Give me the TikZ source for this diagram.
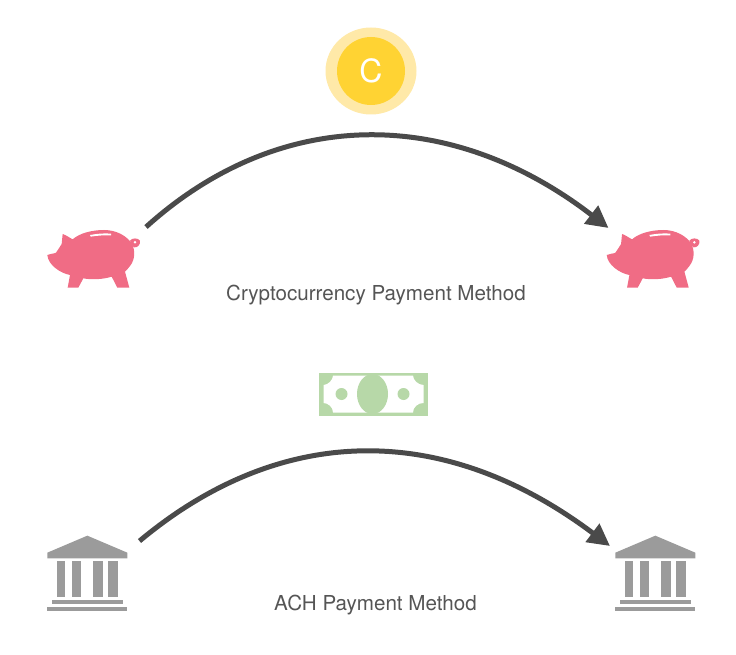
\documentclass[tikz,border=0pt]{standalone}
\usepackage{fontspec}
\setmainfont{TeX Gyre Heros}
\usetikzlibrary{positioning,arrows.meta,shapes.geometric}

\definecolor{pigpink}{HTML}{F06C85}
\definecolor{bankgray}{HTML}{9B9B9B}
\definecolor{billgreen}{HTML}{B7D8A8}
\definecolor{coinpale}{HTML}{FFE9A8}
\definecolor{coindeep}{HTML}{FFD333}
\definecolor{inkgray}{HTML}{4A4A4A}
\definecolor{textgray}{HTML}{555555}

\tikzset{
  flow/.style={draw=inkgray, line width=5pt, -{Triangle[length=22pt, width=22pt]}},
  caption/.style={text=textgray, font=\fontsize{20.6}{23}\selectfont, inner sep=0pt, anchor=base},
  piggy/.pic={
    \fill[pigpink] (52,135) .. controls (60,130) and (72,132) .. (78,128)
      .. controls (85,118) and (90,110) .. (95,102)
      -- (98,72) .. controls (108,75) and (120,84) .. (128,88)
      .. controls (148,70) and (185,60) .. (222,60)
      .. controls (260,60) and (290,78) .. (305,100)
      .. controls (316,120) and (316,148) .. (300,168)
      .. controls (295,175) and (290,180) .. (285,185)
      -- (298,233) -- (262,233) -- (245,200)
      .. controls (220,208) and (185,210) .. (160,205)
      -- (145,233) -- (113,233) -- (120,195)
      .. controls (92,190) and (54,165) .. (52,135) -- cycle;
    \fill[pigpink] (304,104) -- (300,92) .. controls (306,83) and (324,83) .. (330,92)
      .. controls (332,104) and (322,114) .. (312,112) -- cycle;
    \fill[white] (315,97) circle (4);
    \fill[white] (180,75) .. controls (200,71) and (225,69) .. (243,71)
      -- (243,76) .. controls (225,75) and (200,77) .. (182,80) -- cycle;
  },
  bank/.pic={
    \fill[bankgray] (172,47) -- (292,98) -- (292,115) -- (52,115) -- (52,98) -- cycle;
    \foreach \xa/\xb in {80/105, 125/152, 190/220, 235/263}
      \fill[bankgray] (\xa,122) rectangle (\xb,232);
    \fill[bankgray] (65,240) rectangle (280,252);
    \fill[bankgray] (52,262) rectangle (292,272);
  },
}

\begin{document}
\begin{tikzpicture}[x=1pt, y=-1pt]
\useasboundingbox (0,0) rectangle (736,655);

% coin
\node[ellipse, fill=coinpale, minimum width=91pt, minimum height=87pt, inner sep=0pt] (coinrim) at (371,71) {};
\node[circle, fill=coindeep, minimum size=68pt, inner sep=0pt, text=white,
      font=\fontsize{32}{34}\selectfont] (coin) at (371,71) {C};

% bill
\fill[billgreen] (319,372.5) rectangle (427.5,415.5);
\fill[white] (333,375.5) -- (413,375.5) .. controls (413,380) and (418,385) .. (423.5,385)
  -- (423.5,403) .. controls (418,403) and (413,407) .. (413,412.5)
  -- (333,412.5) .. controls (333,407) and (328,403) .. (323.5,403)
  -- (323.5,385) .. controls (328,385) and (333,380) .. (333,375.5) -- cycle;
\fill[billgreen] (372.5,394) ellipse (15.5 and 20);
\fill[billgreen] (341.5,394) circle (6);
\fill[billgreen] (403.5,394) circle (6);

% top row
\pic at (30,210) [scale=1/3] {piggy};
\pic at (589.4,210) [scale=1/3] {piggy};
\coordinate (pigfrom) at (146,227);
\coordinate (pigto) at (608.5,228);
\draw[flow] (pigfrom) .. controls (280,106) and (450,106) .. (pigto);
\node[caption] (cryptolabel) at (376,300) {Cryptocurrency Payment Method};

% bottom row
\pic at (30,520) [scale=1/3] {bank};
\pic at (598,520) [scale=1/3] {bank};
\coordinate (bankfrom) at (139.5,541);
\coordinate (bankto) at (610,546);
\draw[flow] (bankfrom) .. controls (282,422) and (445,422) .. (bankto);
\node[caption] (achlabel) at (375.5,610) {ACH Payment Method};

\end{tikzpicture}
\end{document}
